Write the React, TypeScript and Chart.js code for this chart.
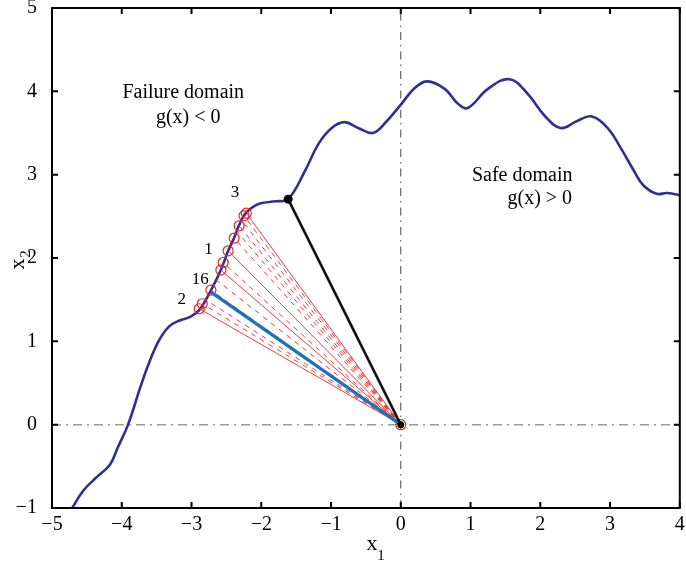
import { useEffect, useRef } from 'react';
import { Chart, registerables } from 'chart.js';
Chart.register(...registerables);

// Limit-state curve g(x) = 0
const curveX = [-4.71, -4.55, -4.36, -4.17, -4.06, -3.91, -3.745, -3.6, -3.46, -3.32, -3.17, -3.03, -2.89, -2.72, -2.58, -2.475, -2.39, -2.32, -2.22, -2.03, -1.79, -1.615, -1.37, -1.18, -0.99, -0.81, -0.61, -0.4, -0.225, 0.01, 0.2, 0.38, 0.63, 0.82, 0.96, 1.25, 1.56, 1.82, 2.06, 2.29, 2.53, 2.73, 2.96, 3.15, 3.34, 3.48, 3.67, 3.82, 4.03];
const curveY = [-1.0, -0.79, -0.63, -0.48, -0.28, 0, 0.42, 0.76, 1.02, 1.18, 1.25, 1.29, 1.375, 1.615, 1.855, 2.086, 2.24, 2.39, 2.54, 2.65, 2.68, 2.706, 3.05, 3.37, 3.56, 3.63, 3.56, 3.5, 3.62, 3.85, 4.04, 4.12, 4.03, 3.85, 3.8, 4.03, 4.145, 3.97, 3.71, 3.56, 3.645, 3.7, 3.565, 3.325, 3.05, 2.87, 2.77, 2.78, 2.75];

// Iteration points on the curve (red circles)
const circleX = [-2.889, -2.846, -2.722, -2.579, -2.546, -2.475, -2.389, -2.318, -2.247, -2.214];
const circleY = [1.391, 1.451, 1.615, 1.855, 1.946, 2.086, 2.239, 2.386, 2.506, 2.538];

// Rays from origin
const solidRayX = [-2.889, -2.579, -2.475, -2.214];
const solidRayY = [1.391, 1.855, 2.086, 2.538];
const dashedRayX = [-2.846, -2.80, -2.722, -2.65, -2.546, -2.389, -2.35, -2.318, -2.28, -2.247];
const dashedRayY = [1.451, 1.50, 1.615, 1.74, 1.946, 2.239, 2.32, 2.386, 2.45, 2.506];

const originX = 0;
const originY = 0;
const designX = -1.615;
const designY = 2.706;
const blueEndX = -2.72;
const blueEndY = 1.59;

const xMin = -5, xMax = 4, yMin = -1, yMax = 5;

const annoText = ['Failure domain', 'g(x) < 0', 'Safe domain', 'g(x) > 0'];
const annoX = [-3.99, -3.51, 1.02, 1.53];
const annoY = [3.92, 3.62, 2.93, 2.65];

const iterText = ['3', '1', '16', '2'];
const iterX = [-2.375, -2.756, -2.874, -3.14];
const iterY = [2.785, 2.107, 1.739, 1.507];

const SERIF = '"Liberation Serif", "DejaVu Serif", serif';
const RED = '#e8262a';

const decor = {
  id: 'decor',
  afterDraw(chart: any) {
    const { ctx, chartArea: a, scales } = chart;
    const xs = scales.x, ys = scales.y;
    ctx.save();
    // frame
    ctx.strokeStyle = '#000';
    ctx.lineWidth = 2;
    ctx.strokeRect(a.left, a.top, a.right - a.left, a.bottom - a.top);
    // inward ticks
    const tl = 6;
    ctx.beginPath();
    xs.ticks.forEach((t: any) => {
      const px = xs.getPixelForValue(t.value);
      ctx.moveTo(px, a.bottom); ctx.lineTo(px, a.bottom - tl);
      ctx.moveTo(px, a.top); ctx.lineTo(px, a.top + tl);
    });
    ys.ticks.forEach((t: any) => {
      const py = ys.getPixelForValue(t.value);
      ctx.moveTo(a.left, py); ctx.lineTo(a.left + tl, py);
      ctx.moveTo(a.right, py); ctx.lineTo(a.right - tl, py);
    });
    ctx.stroke();

    // annotations
    ctx.fillStyle = '#000';
    ctx.textAlign = 'left';
    ctx.textBaseline = 'alphabetic';
    ctx.font = `20px ${SERIF}`;
    annoText.forEach((s, i) => {
      ctx.fillText(s, xs.getPixelForValue(annoX[i]), ys.getPixelForValue(annoY[i]));
    });
    ctx.textAlign = 'center';
    ctx.textBaseline = 'middle';
    ctx.font = `17px ${SERIF}`;
    iterText.forEach((s, i) => {
      ctx.fillText(s, xs.getPixelForValue(iterX[i]), ys.getPixelForValue(iterY[i]));
    });

    // axis titles
    const cx = (a.left + a.right) / 2;
    ctx.textBaseline = 'alphabetic';
    ctx.textAlign = 'center';
    ctx.font = `22px ${SERIF}`;
    ctx.fillText('x', cx + 6, a.bottom + 42);
    ctx.font = `15px ${SERIF}`;
    ctx.fillText('1', cx + 15, a.bottom + 52);

    const cy = (a.top + a.bottom) / 2;
    ctx.translate(24, cy + 6);
    ctx.rotate(-Math.PI / 2);
    ctx.font = `22px ${SERIF}`;
    ctx.fillText('x', 0, 0);
    ctx.font = `15px ${SERIF}`;
    ctx.fillText('2', 10, 6);
    ctx.restore();
  },
};

export default function App() {
  const ref = useRef<HTMLCanvasElement>(null);
  useEffect(() => {
    document.body.style.margin = '0';
    const datasets: any[] = [];
    // top-most first
    datasets.push({
      data: [{ x: originX, y: originY }, { x: designX, y: designY }],
      borderColor: '#000', backgroundColor: '#000', borderWidth: 0,
      showLine: false, pointRadius: [3.5, 4.5], pointBorderWidth: 0,
    });
    datasets.push({
      data: [{ x: originX, y: originY }, { x: designX, y: designY }],
      borderColor: '#111', borderWidth: 2.6, pointRadius: 0, showLine: true,
    });
    datasets.push({
      data: [{ x: originX, y: originY }, { x: blueEndX, y: blueEndY }],
      borderColor: '#1a72b8', borderWidth: 3.2, pointRadius: 0, showLine: true,
    });
    datasets.push({
      data: [{ x: originX, y: originY }, ...circleX.map((x, i) => ({ x, y: circleY[i] }))],
      showLine: false, pointStyle: 'circle',
      pointRadius: 5, pointBorderColor: RED, pointBackgroundColor: 'rgba(0,0,0,0)', pointBorderWidth: 1.2,
    });
    solidRayX.forEach((x, i) => {
      datasets.push({
        data: [{ x: originX, y: originY }, { x, y: solidRayY[i] }],
        borderColor: RED, borderWidth: 0.9, pointRadius: 0, showLine: true,
      });
    });
    dashedRayX.forEach((x, i) => {
      datasets.push({
        data: [{ x: originX, y: originY }, { x, y: dashedRayY[i] }],
        borderColor: RED, borderWidth: 0.9, borderDash: [5, 5], pointRadius: 0, showLine: true,
      });
    });
    datasets.push({
      data: curveX.map((x, i) => ({ x, y: curveY[i] })),
      borderColor: '#2e3192', borderWidth: 2.6, pointRadius: 0, showLine: true,
      tension: 0.4,
    });
    datasets.push({
      data: [{ x: xMin, y: 0 }, { x: xMax, y: 0 }],
      borderColor: '#999', borderWidth: 1.5, borderDash: [9, 5, 2, 5], pointRadius: 0, showLine: true,
    });
    datasets.push({
      data: [{ x: 0, y: yMin }, { x: 0, y: yMax }],
      borderColor: '#444', borderWidth: 1, borderDash: [8, 5, 1.5, 5], pointRadius: 0, showLine: true,
    });

    const minus = (v: any) => String(v).replace('-', '\u2212');
    const chart = new Chart(ref.current as HTMLCanvasElement, {
      type: 'scatter',
      data: { datasets },
      plugins: [decor],
      options: {
        animation: false,
        responsive: false,
        layout: { padding: { top: 8, right: 3, left: 0, bottom: 0 } },
        plugins: { legend: { display: false }, tooltip: { enabled: false } },
        scales: {
          x: {
            type: 'linear', min: xMin, max: xMax,
            grid: { display: false }, border: { display: false },
            ticks: { stepSize: 1, color: '#000', font: { family: SERIF, size: 20 }, padding: -3, callback: minus, maxRotation: 0 },
            afterFit: (s: any) => { s.height = 56; s.paddingLeft = 0; s.paddingRight = 0; },
          },
          y: {
            type: 'linear', min: yMin, max: yMax,
            grid: { display: false }, border: { display: false },
            ticks: { stepSize: 1, color: '#000', font: { family: SERIF, size: 20 }, padding: 7, callback: minus },
            afterFit: (s: any) => { s.width = 52; s.paddingTop = 0; s.paddingBottom = 0; },
          },
        },
      } as any,
    });
    return () => chart.destroy();
  }, []);
  return <canvas ref={ref} width={686} height={564} style={{ display: 'block' }} />;
}
